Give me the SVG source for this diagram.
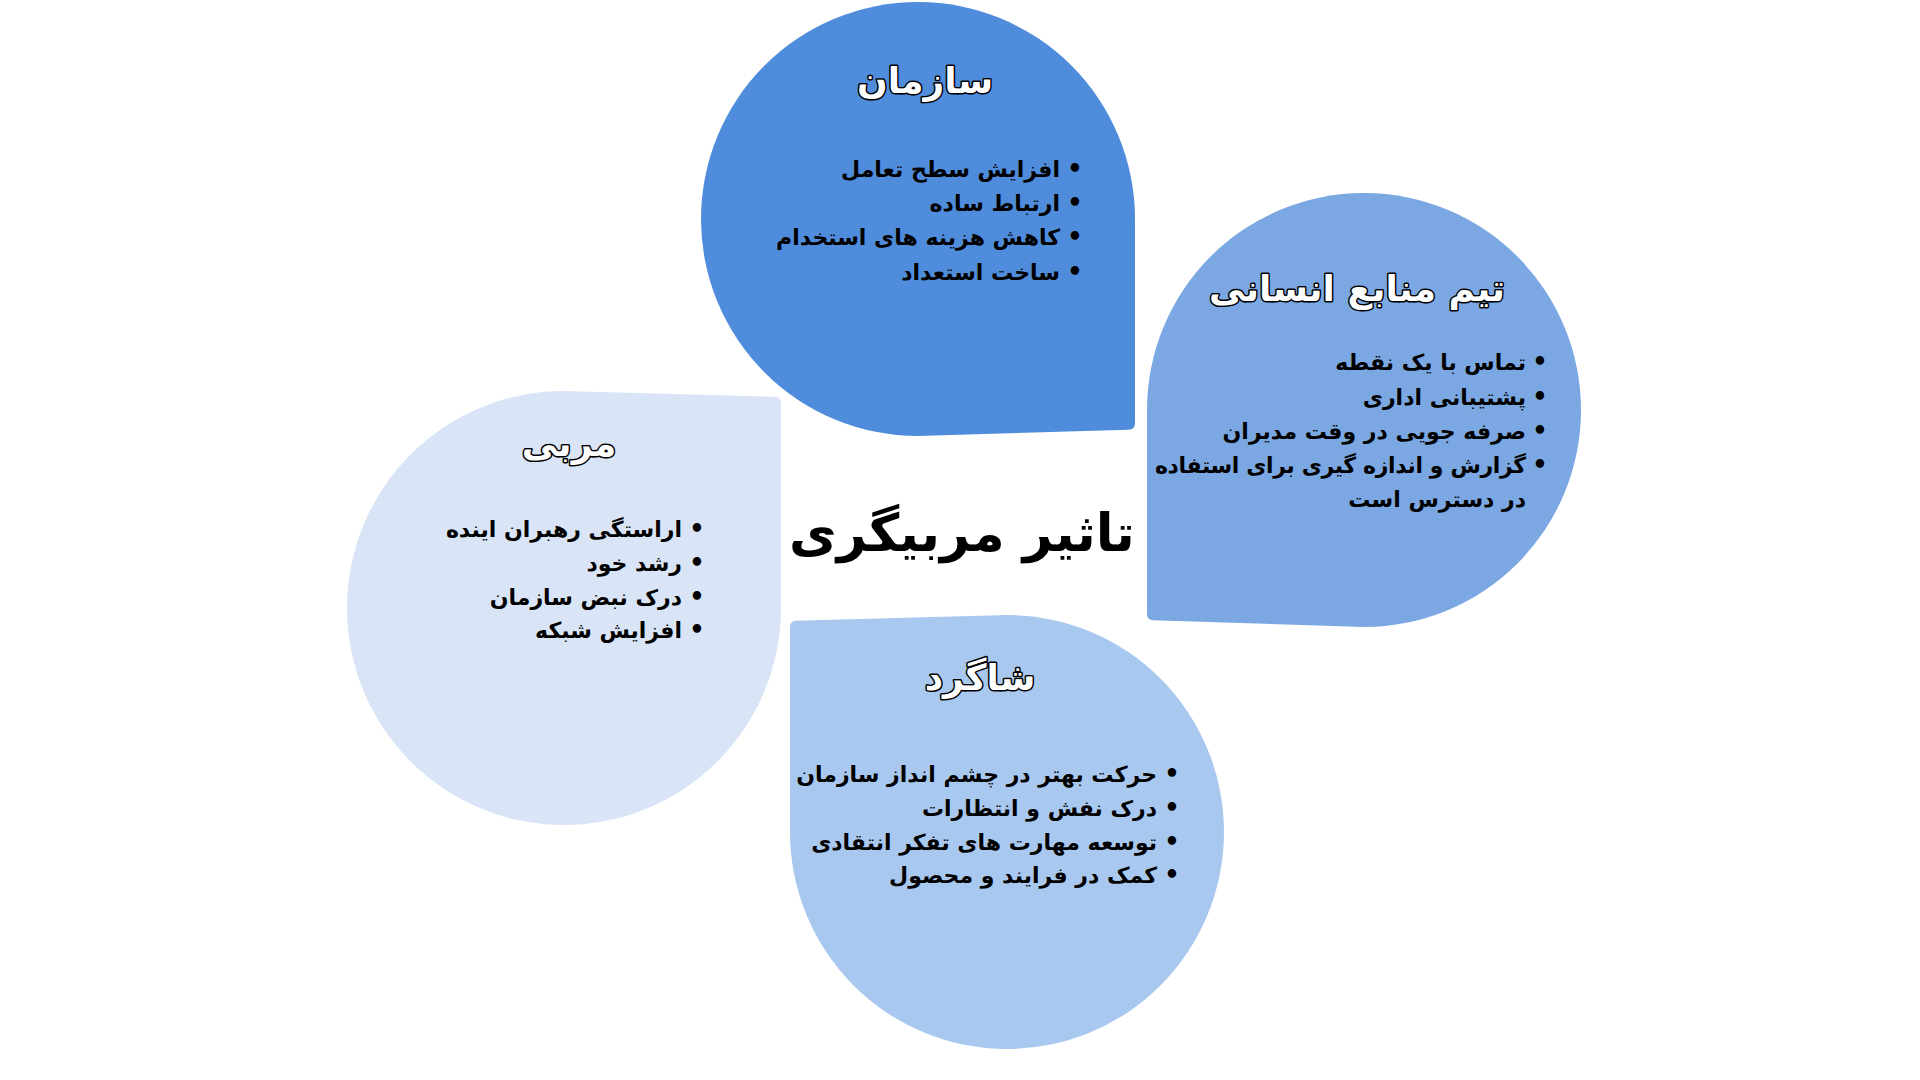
<svg xmlns="http://www.w3.org/2000/svg" width="1920" height="1080" viewBox="0 0 1920 1080">
<style>
.ttl{font-family:"DejaVu Sans",sans-serif;font-weight:bold;font-size:36px;fill:#ffffff;stroke:#000000;stroke-width:3px;paint-order:stroke;stroke-linejoin:round;text-anchor:middle}
.itm{font-family:"DejaVu Sans",sans-serif;font-weight:bold;font-size:22px;fill:#000000;text-anchor:end}
.bul{font-family:"DejaVu Sans",sans-serif;font-weight:bold;font-size:24px;fill:#000000;text-anchor:middle}
.main{font-family:"DejaVu Sans",sans-serif;font-weight:bold;font-size:52px;fill:#000000;text-anchor:middle}
</style>
<rect width="1920" height="1080" fill="#ffffff"/>
<g id="node-organization">
<path d="M918,436 A217,217 0 0 1 701,219 A217,217 0 0 1 918,2 A217,217 0 0 1 1135,219 L1135,423 Q1135,429.5 1128.5,429.7 Z" fill="#4F8CDB"/>
<text class="ttl" x="925" y="93">سازمان</text>
<text class="bul" x="1075" y="177">•</text><text class="itm" x="1060" y="177">افزایش سطح تعامل</text>
<text class="bul" x="1075" y="211">•</text><text class="itm" x="1060" y="211">ارتباط ساده</text>
<text class="bul" x="1075" y="245">•</text><text class="itm" x="1060" y="245">کاهش هزینه های استخدام</text>
<text class="bul" x="1075" y="280">•</text><text class="itm" x="1060" y="280">ساخت استعداد</text>
</g>
<g id="node-hr">
<path d="M1147,410 A217,217 0 0 1 1364,193 A217,217 0 0 1 1581,410 A217,217 0 0 1 1364,627 L1153,620.3 Q1147,620 1147,614 Z" fill="#7BA8E3"/>
<text class="ttl" x="1357" y="301">تیم منابع انسانی</text>
<text class="bul" x="1540" y="370">•</text><text class="itm" x="1526" y="370">تماس با یک نقطه</text>
<text class="bul" x="1540" y="405">•</text><text class="itm" x="1526" y="405">پشتیبانی اداری</text>
<text class="bul" x="1540" y="439">•</text><text class="itm" x="1526" y="439">صرفه جویی در وقت مدیران</text>
<text class="bul" x="1540" y="473">•</text><text class="itm" x="1526" y="473" textLength="371" lengthAdjust="spacing">گزارش و اندازه گیری برای استفاده</text>
<text class="itm" x="1526" y="507">در دسترس است</text>
</g>
<g id="node-coach">
<path d="M564,391 L775,396.8 Q781,397 781,403 L781,608 A217,217 0 0 1 564,825 A217,217 0 0 1 347,608 A217,217 0 0 1 564,391 Z" fill="#D9E5F6"/>
<text class="ttl" x="569" y="456">مربی</text>
<text class="bul" x="697" y="537">•</text><text class="itm" x="682" y="537">اراستگی رهبران اینده</text>
<text class="bul" x="697" y="571">•</text><text class="itm" x="682" y="571">رشد خود</text>
<text class="bul" x="697" y="605">•</text><text class="itm" x="682" y="605">درک نبض سازمان</text>
<text class="bul" x="697" y="638">•</text><text class="itm" x="682" y="638">افزایش شبکه</text>
</g>
<g id="node-mentee">
<path d="M790,832 L790,627 Q790,621 796,620.8 L1007,615 A217,217 0 0 1 1224,832 A217,217 0 0 1 1007,1049 A217,217 0 0 1 790,832 Z" fill="#A9C8EF"/>
<text class="ttl" x="980" y="690">شاگرد</text>
<text class="bul" x="1172" y="782">•</text><text class="itm" x="1157" y="782">حرکت بهتر در چشم انداز سازمان</text>
<text class="bul" x="1172" y="816">•</text><text class="itm" x="1157" y="816">درک نفش و انتظارات</text>
<text class="bul" x="1172" y="850">•</text><text class="itm" x="1157" y="850">توسعه مهارت های تفکر انتقادی</text>
<text class="bul" x="1172" y="883">•</text><text class="itm" x="1157" y="883">کمک در فرایند و محصول</text>
</g>
<g id="node-center">
<text class="main" x="962" y="551">تاثیر مربیگری</text>
</g>
<g id="connectors"/>
</svg>
